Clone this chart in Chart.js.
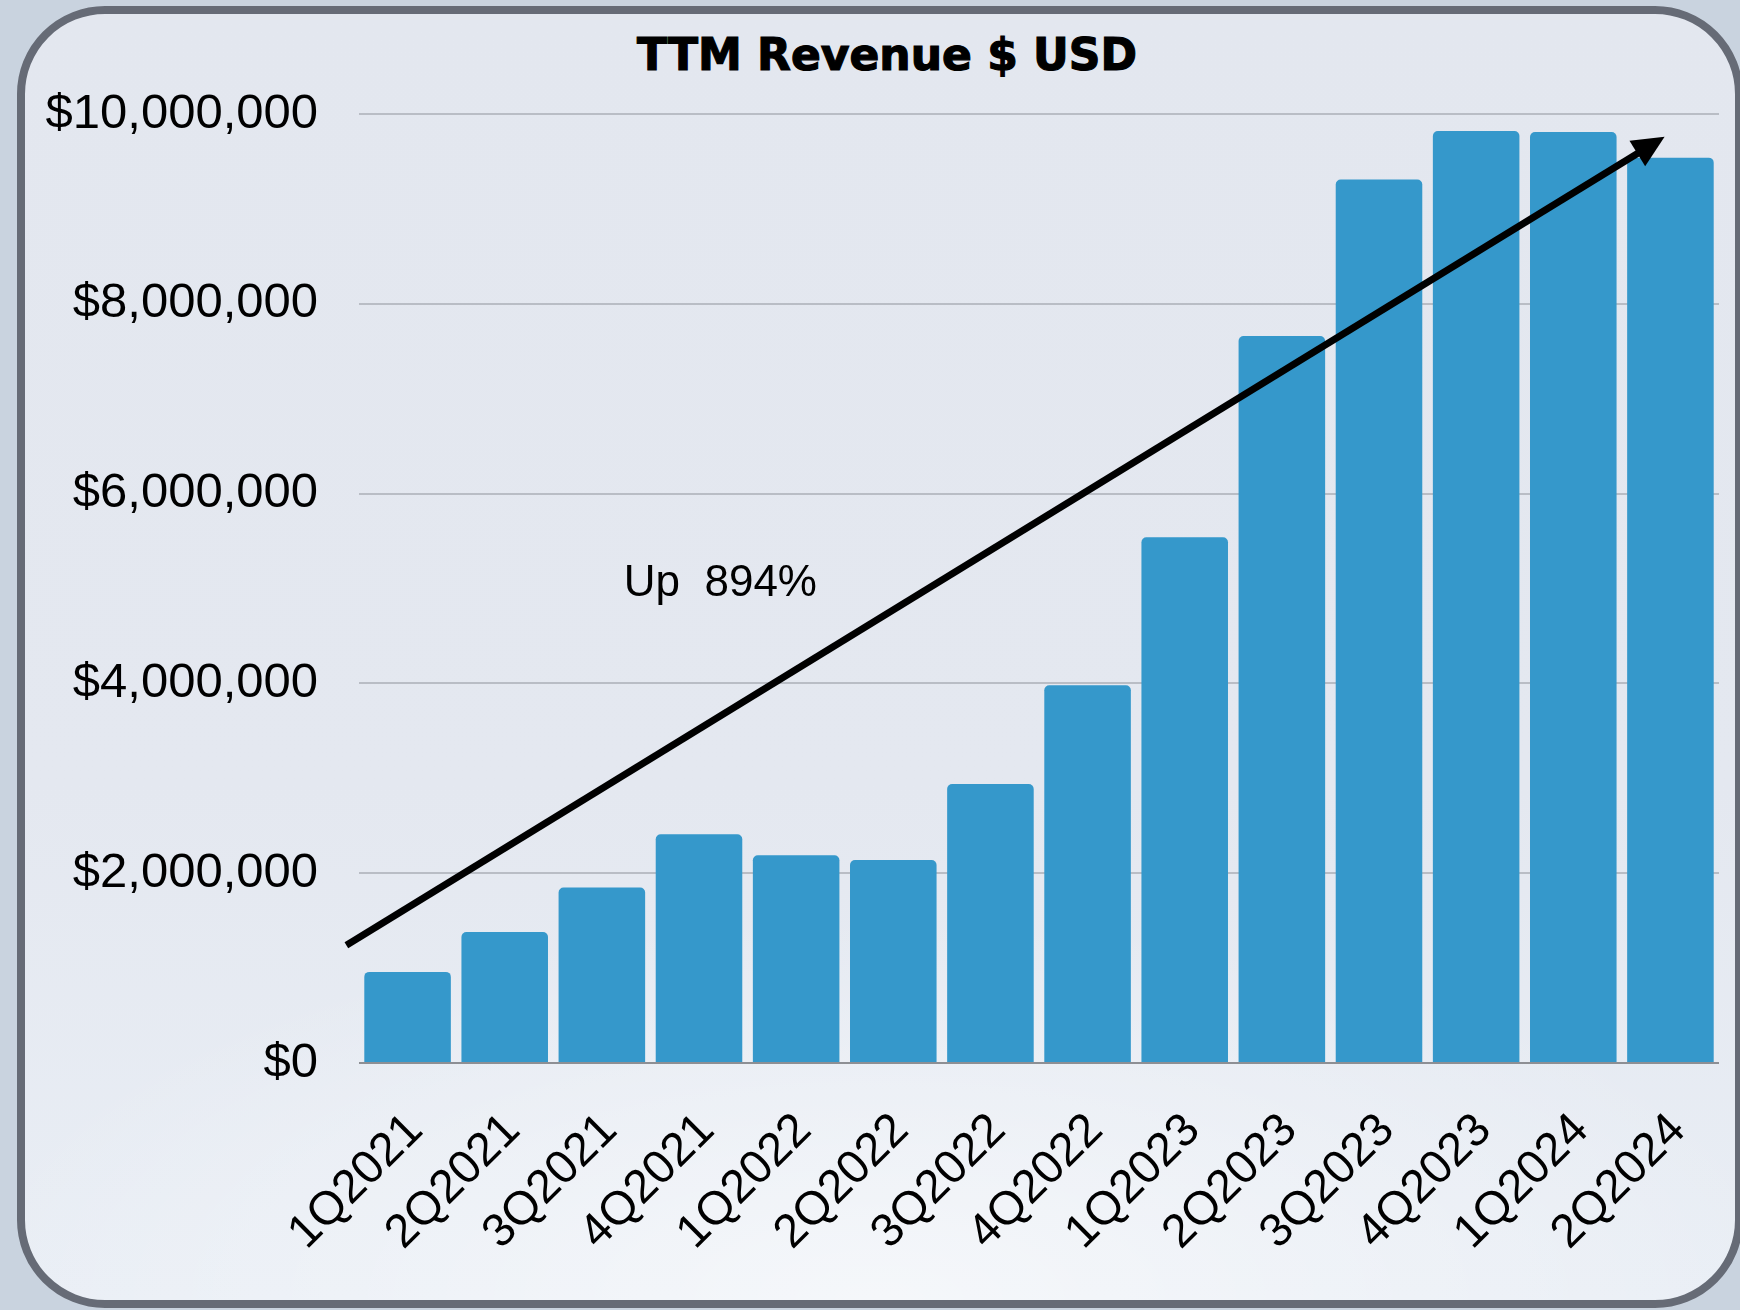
<!DOCTYPE html>
<html>
<head>
<meta charset="utf-8">
<script src="https://cdn.jsdelivr.net/npm/chart.js@4.4.1/dist/chart.umd.min.js"></script>
<style>
  html, body { margin: 0; padding: 0; }
  body {
    width: 1740px; height: 1310px; overflow: hidden; position: relative;
    background: #c9d3df;
  }
  #frame {
    position: absolute; left: 17px; top: 6px; width: 1726px; height: 1302px;
    box-sizing: border-box; border: 8px solid #666b76; border-radius: 88px;
    background:
      radial-gradient(ellipse 55% 30% at 50% 100%, rgba(255,255,255,0.55), rgba(255,255,255,0) 100%),
      linear-gradient(180deg, #e3e7ef 0%, #e4e8f0 60%, #e9eef5 100%);
  }
  #title {
    position: absolute; left: 0; top: 33px; width: 1774px; text-align: center;
    font: bold 44px/44px "DejaVu Sans", sans-serif; color: #000;
    -webkit-text-stroke: 1.2px #000;
  }
  #chart { position: absolute; left: 0; top: 0; }
</style>
</head>
<body>
<div id="frame"></div>
<div id="title">TTM Revenue $ USD</div>
<canvas id="chart" width="1740" height="1310"></canvas>
<script>
// ── Data ─────────────────────────────────────────────────────
const quarters = [
  '1Q2021', '2Q2021', '3Q2021', '4Q2021',
  '1Q2022', '2Q2022', '3Q2022', '4Q2022',
  '1Q2023', '2Q2023', '3Q2023', '4Q2023',
  '1Q2024', '2Q2024',
];
const ttmRevenue = [
  960000, 1380000, 1850000, 2410000,
  2190000, 2140000, 2940000, 3980000,
  5540000, 7660000, 9310000, 9820000,
  9810000, 9540000,
];
const yTicks = [0, 2000000, 4000000, 6000000, 8000000, 10000000];

// trend arrow + note, in data space (category index, value)
const arrowFrom = [-0.63, 1240000];
const arrowTo   = [12.94, 9760000];
const noteText  = 'Up  894%';
const notePos   = [3.22, 5050000];

const BAR_BLUE = '#3598cb';

// Narrow face if the box has it, otherwise plain Liberation Sans a bit smaller
function hasFont(name) {
  const c = document.createElement('canvas').getContext('2d');
  const s = '1Q2021 $10,000,000';
  c.font = '40px monospace';
  const a = c.measureText(s).width;
  c.font = `40px "${name}", monospace`;
  return c.measureText(s).width !== a;
}
const narrow = hasFont('Liberation Sans Narrow');
const labelFamily = narrow ? '"Liberation Sans Narrow"' : '"Liberation Sans"';
const xSize = narrow ? 52 : 47;
const noteSize = narrow ? 52 : 44;

const trendArrow = {
  id: 'trendArrow',
  afterDatasetsDraw(chart) {
    const { ctx, scales: { x, y } } = chart;
    const x0 = x.getPixelForValue(arrowFrom[0]), y0 = y.getPixelForValue(arrowFrom[1]);
    const x1 = x.getPixelForValue(arrowTo[0]),   y1 = y.getPixelForValue(arrowTo[1]);
    const ang = Math.atan2(y1 - y0, x1 - x0);
    const headLen = 32, headHalf = 15;
    const bx = x1 - headLen * Math.cos(ang), by = y1 - headLen * Math.sin(ang);

    ctx.save();
    ctx.strokeStyle = '#000';
    ctx.lineWidth = 7;
    ctx.beginPath();
    ctx.moveTo(x0, y0);
    ctx.lineTo(bx + 4 * Math.cos(ang), by + 4 * Math.sin(ang));
    ctx.stroke();

    ctx.fillStyle = '#000';
    ctx.beginPath();
    ctx.moveTo(x1, y1);
    ctx.lineTo(bx + headHalf * Math.sin(ang), by - headHalf * Math.cos(ang));
    ctx.lineTo(bx - headHalf * Math.sin(ang), by + headHalf * Math.cos(ang));
    ctx.closePath();
    ctx.fill();

    ctx.font = `${noteSize}px ${labelFamily}`;
    ctx.textAlign = 'center';
    ctx.textBaseline = 'middle';
    ctx.fillText(noteText, x.getPixelForValue(notePos[0]), y.getPixelForValue(notePos[1]));
    ctx.restore();
  },
};

new Chart(document.getElementById('chart'), {
  type: 'bar',
  data: {
    labels: quarters,
    datasets: [{
      data: ttmRevenue,
      backgroundColor: BAR_BLUE,
      borderRadius: 5,
      borderSkipped: 'start',
      categoryPercentage: 1,
      barPercentage: 0.891,
    }],
  },
  options: {
    responsive: false,
    animation: false,
    layout: { padding: { top: 114, right: 21, left: 0, bottom: 0 } },
    plugins: { legend: { display: false }, tooltip: { enabled: false }, title: { display: false } },
    scales: {
      x: {
        grid: { display: false, drawTicks: false },
        border: { display: false },
        ticks: {
          minRotation: 45, maxRotation: 45, autoSkip: false,
          padding: 40, labelOffset: 8,
          color: '#000',
          font: { family: labelFamily, size: xSize },
        },
        afterFit(scale) {
          scale.height = 247;
          // rotated labels fit inside the frame; don't let them squeeze the plot
          scale.paddingLeft = 0;
          scale.paddingRight = 0;
        },
      },
      y: {
        min: 0, max: 10000000,
        afterBuildTicks(scale) { scale.ticks = yTicks.map(v => ({ value: v })); },
        grid: {
          drawTicks: false,
          lineWidth: 2,
          color: ctx => (ctx.tick && ctx.tick.value === 0 ? '#8d8f94' : '#b9bdc5'),
        },
        border: { display: false },
        ticks: {
          padding: 41,
          color: '#000',
          font: { family: '"Liberation Sans"', size: 49 },
          callback: v => '$' + Number(v).toLocaleString('en-US'),
        },
        afterFit(scale) { scale.width = 359; },
      },
    },
  },
  plugins: [trendArrow],
});
</script>
</body>
</html>
